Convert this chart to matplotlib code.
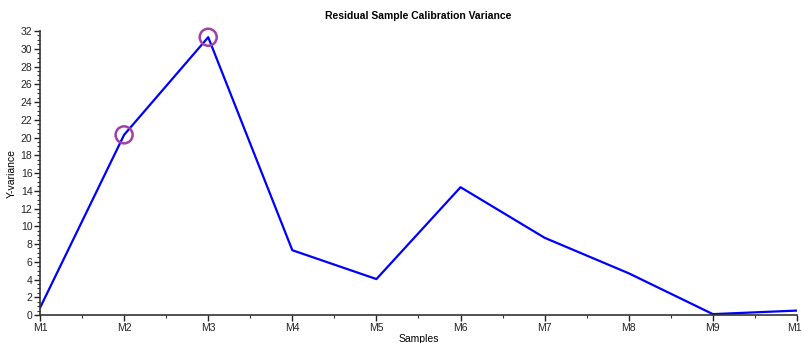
import matplotlib
matplotlib.use('Agg')
import matplotlib.pyplot as plt
from matplotlib.ticker import MultipleLocator

plt.rcParams['font.family'] = ['Liberation Sans', 'DejaVu Sans']

samples = ['M1', 'M2', 'M3', 'M4', 'M5', 'M6', 'M7', 'M8', 'M9', 'M10']
variance = [0.8, 20.3, 31.3, 7.3, 4.05, 14.4, 8.7, 4.7, 0.1, 0.5]
flagged = ['M2', 'M3']

fig = plt.figure(figsize=(8.03, 3.43), dpi=100)
ax = fig.add_axes([0.0498, 0.0816, 0.9427, 0.828])

xs = list(range(len(samples)))
ax.plot(xs, variance, color='#0000ff', lw=1.6, zorder=2)

# outlier markers
fx = [samples.index(s) for s in flagged]
fy = [variance[i] for i in fx]
ax.scatter(fx, fy, s=150, facecolors='none', edgecolors='#a040a8', linewidths=1.8,
           zorder=3, clip_on=False)

ax.set_xlim(0, len(samples) - 1)
ax.set_ylim(0, 32)
ax.set_xticks(xs)
ax.set_xticklabels(samples)
ax.xaxis.set_minor_locator(MultipleLocator(0.5))
ax.yaxis.set_major_locator(MultipleLocator(2))
ax.yaxis.set_minor_locator(MultipleLocator(0.5))

for s in ['top', 'right']:
    ax.spines[s].set_visible(False)
for s in ['left', 'bottom']:
    ax.spines[s].set_linewidth(1.2)
    ax.spines[s].set_color('#333333')

ax.tick_params(which='major', length=4, width=1, labelsize=7.5, pad=1.5, colors='#222222')
ax.tick_params(which='minor', length=2, width=0.8, colors='#333333')

ax.set_xlabel('Samples', fontsize=7.5, labelpad=1)
ax.set_ylabel('Y-variance', fontsize=7.5)
ax.yaxis.set_label_coords(-0.031, 0.5)
ax.set_title('Residual Sample Calibration Variance', fontsize=7.5, fontweight='bold', pad=9)

for lbl in ax.get_xticklabels():
    lbl.set_clip_on(False)

fig.savefig('out.png', dpi=100)
